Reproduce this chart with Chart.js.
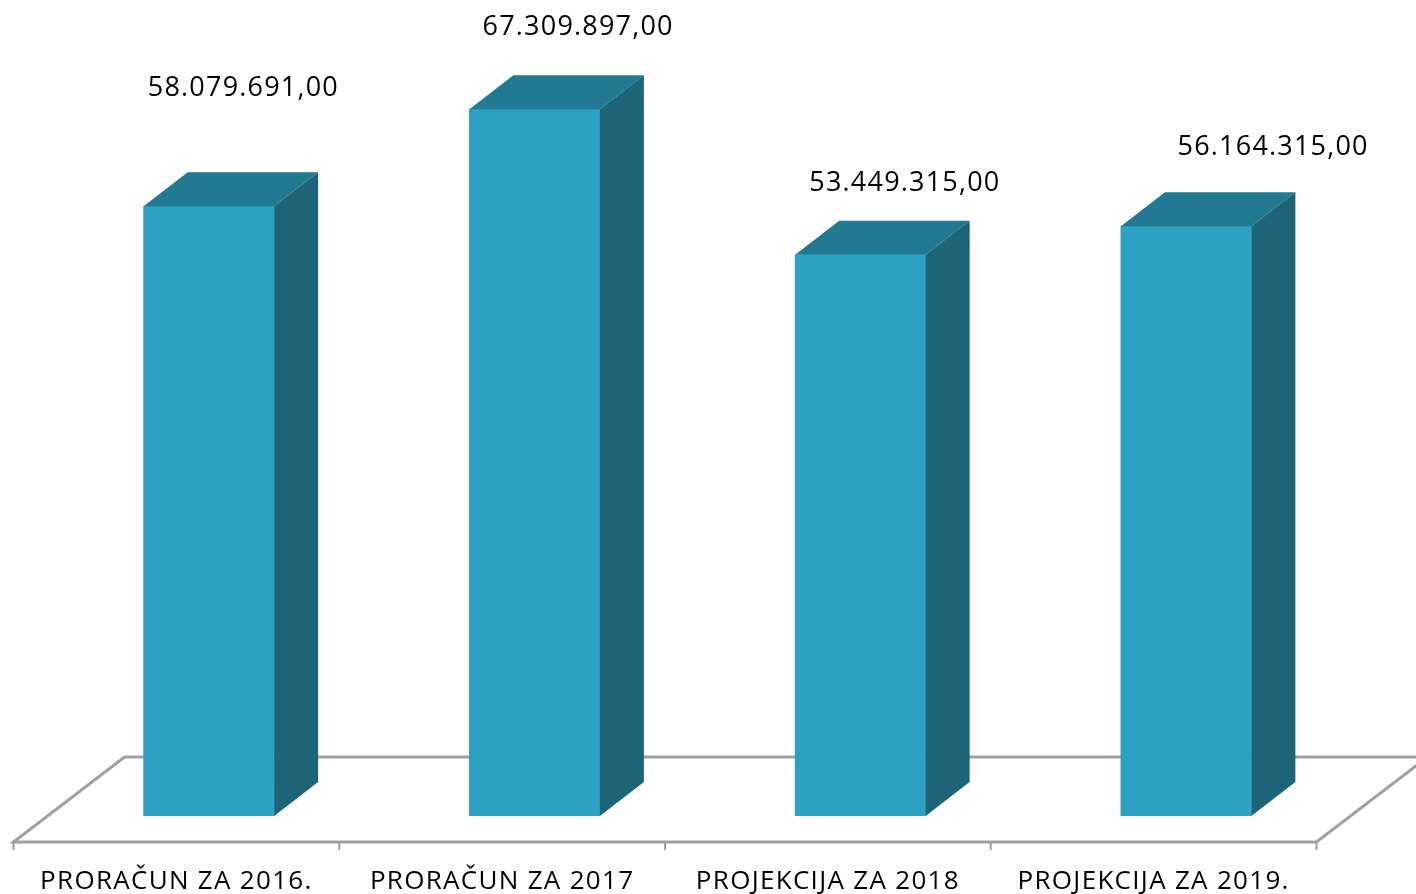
<!DOCTYPE html>
<html>
<head>
<meta charset="utf-8">
<style>html,body{margin:0;padding:0;background:#fff;overflow:hidden}canvas{display:block}</style>
<script src="https://cdn.jsdelivr.net/npm/chart.js@4/dist/chart.umd.min.js"></script>
</head>
<body>
<canvas id="c" width="1416" height="894"></canvas>
<script>
const categories = ["PRORAČUN ZA 2016.", "PRORAČUN ZA 2017", "PROJEKCIJA ZA 2018", "PROJEKCIJA ZA 2019."];
const values = [58079691, 67309897, 53449315, 56164315];
const valueLabels = ["58.079.691,00", "67.309.897,00", "53.449.315,00", "56.164.315,00"];

const FONT = '"Open Sans", sans-serif';
const depthX = 44, depthY = 34;
const shiftX = 32.5, floorFront = 26, floorBack = 59, floorBackX = 111, tickLen = 8;
const labelOffsets = [[34.5, -118], [43.5, -82], [44.5, -71], [87, -79]];

function poly(ctx, pts, fill) {
  ctx.beginPath();
  pts.forEach((p, i) => i ? ctx.lineTo(p[0], p[1]) : ctx.moveTo(p[0], p[1]));
  ctx.closePath();
  ctx.fillStyle = fill;
  ctx.fill();
}

const threeD = {
  id: 'threeD',
  beforeDraw(chart) { chart.ctx.letterSpacing = '1.3px'; },
  beforeDatasetsDraw(chart) {
    const { ctx, chartArea: a, scales: { x } } = chart;
    const step = x.getPixelForTick(1) - x.getPixelForTick(0);
    const L = x.getPixelForTick(0) - step / 2 - shiftX;
    const R = L + step * categories.length;
    const yF = a.bottom + floorFront, yB = a.bottom - floorBack;
    ctx.save();
    ctx.strokeStyle = '#a0a0a0';
    ctx.lineWidth = 3;
    ctx.beginPath();
    ctx.moveTo(L, yF); ctx.lineTo(R, yF); ctx.lineTo(R + floorBackX, yB);
    ctx.lineTo(L + floorBackX, yB); ctx.closePath();
    ctx.stroke();
    ctx.lineWidth = 2;
    ctx.beginPath();
    for (let i = 0; i <= categories.length; i++) {
      ctx.moveTo(L + i * step, yF); ctx.lineTo(L + i * step, yF + tickLen);
    }
    ctx.stroke();
    ctx.restore();
  },
  afterDatasetsDraw(chart) {
    const ctx = chart.ctx;
    chart.getDatasetMeta(0).data.forEach((bar, i) => {
      const p = bar.getProps(['x', 'y', 'base', 'width'], true);
      const l = p.x - p.width / 2, r = p.x + p.width / 2;
      poly(ctx, [[l, p.y], [r, p.y], [r + depthX, p.y - depthY], [l + depthX, p.y - depthY]], '#227A92');
      poly(ctx, [[r, p.y], [r + depthX, p.y - depthY], [r + depthX, p.base - depthY], [r, p.base]], '#1D6479');
      ctx.save();
      ctx.fillStyle = '#000';
      ctx.font = '27px ' + FONT;
      ctx.textAlign = 'center';
      ctx.textBaseline = 'middle';
      ctx.letterSpacing = '1.2px';
      ctx.fillText(valueLabels[i], p.x + labelOffsets[i][0], p.y + labelOffsets[i][1]);
      ctx.restore();
    });
  }
};

new Chart(document.getElementById('c'), {
  type: 'bar',
  data: {
    labels: categories,
    datasets: [{ data: values, backgroundColor: '#2CA1C1', barThickness: 130.5, borderWidth: 0 }]
  },
  options: {
    responsive: false,
    animation: false,
    layout: { padding: { left: 46, right: 67, top: 81, bottom: 0 } },
    plugins: { legend: { display: false }, title: { display: false }, tooltip: { enabled: false } },
    scales: {
      y: { display: false, min: 0, max: 70000000 },
      x: {
        afterFit(s) { s.height = 78; },
        grid: { display: false },
        border: { display: false },
        ticks: {
          color: '#000',
          font: { family: FONT, size: 26 },
          labelOffset: -32.5,
          padding: 42,
          maxRotation: 0,
          autoSkip: false
        }
      }
    }
  },
  plugins: [threeD]
});
</script>
</body>
</html>
